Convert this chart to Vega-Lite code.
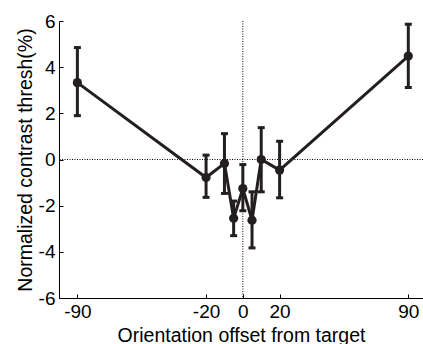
{
  "$schema": "https://vega.github.io/schema/vega-lite/v6.json",
  "autosize": {"type": "none"},
  "padding": {"left": 59, "top": 21, "right": 0, "bottom": 46},
  "width": 364,
  "height": 277,
  "config": {
    "view": {"stroke": null},
    "font": "Liberation Sans",
    "axis": {
      "domainColor": "#000",
      "domainWidth": 1,
      "tickColor": "#000",
      "tickWidth": 1,
      "tickSize": -4,
      "labelColor": "#000",
      "titleColor": "#000",
      "labelFontSize": 19,
      "titleFontSize": 19.5,
      "titleFontWeight": "normal",
      "grid": false,
      "labelFont": "Liberation Sans",
      "titleFont": "Liberation Sans",
      "labelExpr": "'' + datum.value"
    }
  },
  "datasets": {
    "pts": [
      {"x": -90, "y": 3.33, "lo": 1.9, "hi": 4.85},
      {"x": -20, "y": -0.78, "lo": -1.64, "hi": 0.19},
      {"x": -10, "y": -0.17, "lo": -1.47, "hi": 1.12},
      {"x": -5, "y": -2.55, "lo": -3.3, "hi": -1.8},
      {"x": 0, "y": -1.26, "lo": -2.22, "hi": -0.22},
      {"x": 5, "y": -2.63, "lo": -3.83, "hi": -1.4},
      {"x": 10, "y": 0.0, "lo": -1.4, "hi": 1.38},
      {"x": 20, "y": -0.46, "lo": -1.66, "hi": 0.79},
      {"x": 90, "y": 4.48, "lo": 3.12, "hi": 5.86}
    ],
    "zero": [{"v": 0}]
  },
  "layer": [
    {
      "data": {"name": "zero"},
      "mark": {"type": "rule", "color": "#000", "strokeWidth": 1, "strokeDash": [1, 1.5]},
      "encoding": {"y": {"field": "v", "type": "quantitative", "scale": {"domain": [-6, 6]}}}
    },
    {
      "data": {"name": "zero"},
      "mark": {"type": "rule", "color": "#000", "strokeWidth": 1, "strokeDash": [1, 1.5]},
      "encoding": {"x": {"field": "v", "type": "quantitative", "scale": {"domain": [-100, 98]}}}
    },
    {
      "data": {"name": "pts"},
      "mark": {"type": "rule", "color": "#231f20", "strokeWidth": 3},
      "encoding": {
        "x": {"field": "x", "type": "quantitative"},
        "y": {"field": "lo", "type": "quantitative"},
        "y2": {"field": "hi"}
      }
    },
    {
      "data": {"name": "pts"},
      "mark": {"type": "tick", "color": "#231f20", "orient": "horizontal", "size": 7, "thickness": 3, "opacity": 1},
      "encoding": {
        "x": {"field": "x", "type": "quantitative"},
        "y": {"field": "lo", "type": "quantitative"}
      }
    },
    {
      "data": {"name": "pts"},
      "mark": {"type": "tick", "color": "#231f20", "orient": "horizontal", "size": 7, "thickness": 3, "opacity": 1},
      "encoding": {
        "x": {"field": "x", "type": "quantitative"},
        "y": {"field": "hi", "type": "quantitative"}
      }
    },
    {
      "data": {"name": "pts"},
      "mark": {"type": "line", "color": "#231f20", "strokeWidth": 3},
      "encoding": {
        "x": {"field": "x", "type": "quantitative"},
        "y": {"field": "y", "type": "quantitative"}
      }
    },
    {
      "data": {"name": "pts"},
      "mark": {"type": "point", "filled": true, "color": "#231f20", "size": 85, "opacity": 1},
      "encoding": {
        "x": {
          "field": "x", "type": "quantitative",
          "scale": {"domain": [-100, 98], "nice": false, "zero": false},
          "axis": {"values": [-90, -20, 0, 20, 90], "title": "Orientation offset from target", "labelPadding": 8, "titlePadding": 5}
        },
        "y": {
          "field": "y", "type": "quantitative",
          "scale": {"domain": [-6, 6], "nice": false},
          "axis": {"values": [-6, -4, -2, 0, 2, 4, 6], "title": "Normalized contrast thresh(%)", "labelPadding": 8, "titlePadding": 3}
        }
      }
    }
  ]
}
